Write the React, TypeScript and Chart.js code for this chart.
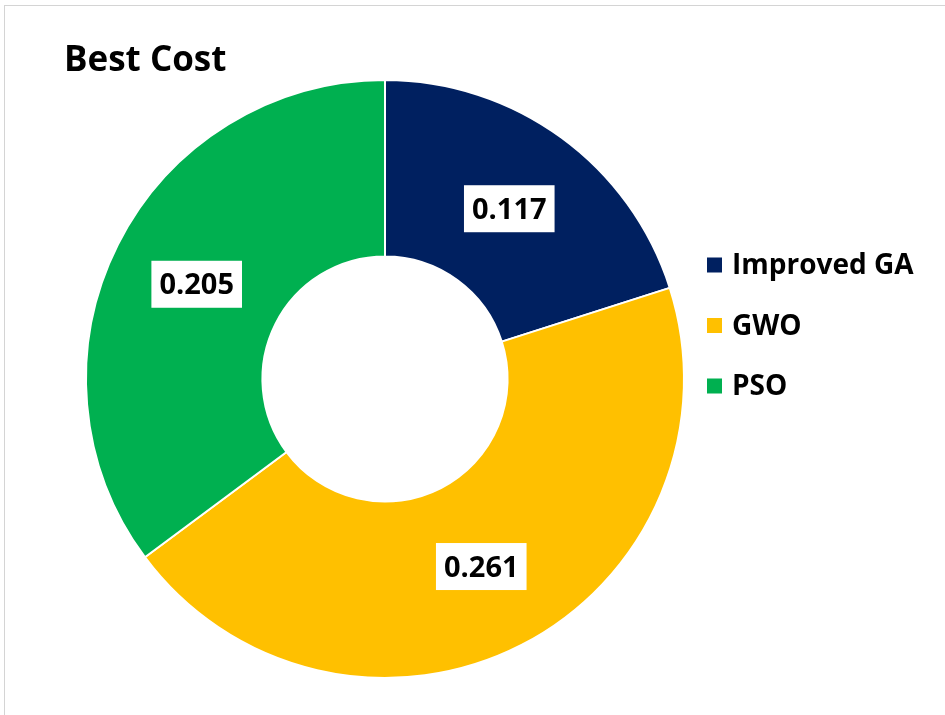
import React, { useEffect, useRef } from "react";
import { Chart, registerables } from "chart.js";

Chart.register(...registerables);

const titleText = "Best Cost";
const categories = ["Improved GA", "GWO", "PSO"];
const values = [0.117, 0.261, 0.205];
const valueLabels = ["0.117", "0.261", "0.205"];
const colors = ["#002060", "#FFC000", "#00B050"];

const FONT = '"Open Sans", "Liberation Sans", sans-serif';

const overlayPlugin = {
  id: "overlay",
  afterDraw(chart: any) {
    const ctx = chart.ctx as CanvasRenderingContext2D;
    ctx.save();
    // title
    ctx.fillStyle = "#000000";
    ctx.font = `bold 35px ${FONT}`;
    ctx.textAlign = "left";
    ctx.textBaseline = "alphabetic";
    ctx.fillText(titleText, 64, 71);

    // data labels
    const meta = chart.getDatasetMeta(0);
    ctx.font = `bold 29px ${FONT}`;
    meta.data.forEach((arc: any, i: number) => {
      const p = arc.tooltipPosition();
      const txt = valueLabels[i];
      const w = ctx.measureText(txt).width + 16;
      const h = 47;
      ctx.fillStyle = "#ffffff";
      ctx.fillRect(p.x - w / 2, p.y - h / 2, w, h);
      ctx.fillStyle = "#000000";
      ctx.textAlign = "center";
      ctx.fillText(txt, p.x, p.y + 10);
    });

    // legend
    const lx = 707;
    const startY = 263.5;
    const step = 60.5;
    ctx.textAlign = "left";
    categories.forEach((c, i) => {
      const cy = startY + i * step;
      ctx.fillStyle = colors[i];
      ctx.fillRect(lx, cy - 7 + 1, 15, 15);
      ctx.fillStyle = "#000000";
      ctx.font = `bold 28px ${FONT}`;
      ctx.fillText(c, lx + 25, cy + 10.5);
    });
    ctx.restore();
  },
};

export default function App() {
  const ref = useRef<HTMLCanvasElement | null>(null);
  useEffect(() => {
    if (!ref.current) return;
    const chart = new Chart(ref.current, {
      type: "doughnut",
      data: {
        labels: categories,
        datasets: [
          {
            data: values,
            backgroundColor: colors,
            borderColor: "#ffffff",
            borderWidth: 2,
          },
        ],
      },
      options: {
        responsive: false,
        animation: false,
        cutout: "41%",
        layout: { padding: { left: 85, right: 260, top: 79, bottom: 36 } },
        plugins: {
          legend: { display: false },
          title: { display: false },
          tooltip: { enabled: false },
        },
      },
      plugins: [overlayPlugin],
    });
    return () => chart.destroy();
  }, []);
  return (
    <div
      style={{
        position: "fixed",
        left: 0,
        top: 0,
        width: 945,
        height: 715,
        background: "#ffffff",
        overflow: "hidden",
      }}
    >
      <div
        style={{
          position: "absolute",
          left: 4,
          top: 5,
          width: 960,
          height: 730,
          borderLeft: "1px solid #d4d4d4",
          borderTop: "1px solid #d4d4d4",
        }}
      />
      <canvas
        ref={ref}
        width={945}
        height={715}
        style={{ position: "absolute", left: 0, top: 0, width: 945, height: 715 }}
      />
    </div>
  );
}
